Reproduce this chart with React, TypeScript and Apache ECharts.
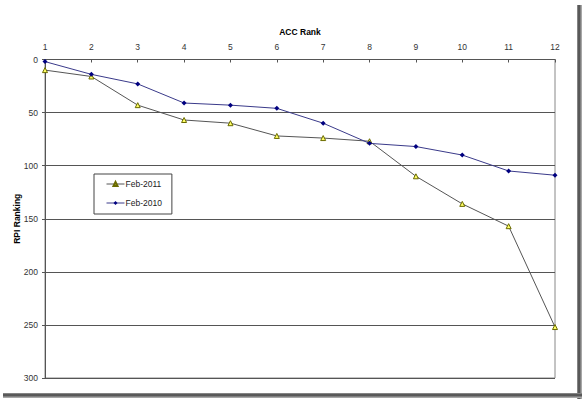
import React, { useEffect, useRef } from "react";
import * as echarts from "echarts";

const ranks = ["1", "2", "3", "4", "5", "6", "7", "8", "9", "10", "11", "12"];
const feb2011 = [10, 16, 43, 57, 60, 72, 74, 77, 110, 136, 157, 252];
const feb2010 = [2, 14, 23, 41, 43, 46, 60, 79, 82, 90, 105, 109];

export default function App() {
  const ref = useRef<HTMLDivElement>(null);
  useEffect(() => {
    if (!ref.current) return;
    const chart = echarts.init(ref.current, null, { renderer: "svg" });
    const font = "'Liberation Sans', Arial, sans-serif";
    chart.setOption({
      animation: false,
      backgroundColor: "#ffffff",
      textStyle: { fontFamily: font },
      grid: {
        left: 45, right: 27, top: 59.5, bottom: 21,
        containLabel: false, outerBoundsMode: "none",
        show: true, borderColor: "#888", borderWidth: 1, backgroundColor: "transparent",
      },
      legend: {
        orient: "vertical",
        left: 94,
        top: 174,
        width: 78,
        padding: [5.5, 10, 6.5, 12],
        itemGap: 10,
        itemWidth: 18,
        itemHeight: 5,
        borderColor: "#444",
        borderWidth: 1,
        lineStyle: { width: 1 },
        textStyle: { fontFamily: font, fontSize: 8.5, color: "#222", padding: [0, 0, 0, -4] },
        data: ["Feb-2011", "Feb-2010"],
      },
      xAxis: {
        type: "category",
        position: "top",
        boundaryGap: false,
        data: ranks,
        name: "ACC Rank",
        nameLocation: "middle",
        nameGap: 23,
        nameMoveOverlap: false,
        nameTextStyle: { fontFamily: font, fontSize: 8.5, fontWeight: "bold", color: "#000" },
        axisLine: { lineStyle: { color: "#555", width: 1 } },
        axisTick: { show: true, inside: true, length: 3, lineStyle: { color: "#555" } },
        axisLabel: { fontFamily: font, fontSize: 8.5, color: "#333", margin: 8 },
        splitLine: { show: false },
      },
      yAxis: {
        type: "value",
        inverse: true,
        min: 0,
        max: 300,
        interval: 50,
        name: "RPI Ranking",
        nameLocation: "middle",
        nameGap: 24,
        nameMoveOverlap: false,
        nameRotate: 90,
        nameTextStyle: { fontFamily: font, fontSize: 8.5, fontWeight: "bold", color: "#000" },
        axisLine: { show: true, lineStyle: { color: "#555", width: 1 } },
        axisTick: { show: true, length: 3, lineStyle: { color: "#555" } },
        axisLabel: { fontFamily: font, fontSize: 8.5, color: "#333", margin: 7 },
        splitLine: { show: true, lineStyle: { color: "#555", width: 1 } },
      },
      series: [
        {
          name: "Feb-2011",
          type: "line",
          data: feb2011,
          symbol: "triangle",
          symbolSize: 5,
          lineStyle: { color: "#555", width: 1 },
          itemStyle: { color: "#ffff66", borderColor: "#6b6b00", borderWidth: 1 },
          z: 3,
        },
        {
          name: "Feb-2010",
          type: "line",
          data: feb2010,
          symbol: "diamond",
          symbolSize: 5,
          lineStyle: { color: "#3a3a8a", width: 1 },
          itemStyle: { color: "#000080", borderColor: "#000080", borderWidth: 0 },
          z: 4,
        },
      ],
      graphic: [
        {
          type: "rect",
          shape: { x: 577, y: 5, width: 5, height: 394 },
          style: {
            fill: new echarts.graphic.LinearGradient(0, 0, 1, 0, [
              { offset: 0, color: "#999" },
              { offset: 0.4, color: "#444" },
              { offset: 1, color: "#bbb" },
            ]),
          },
          silent: true,
        },
        {
          type: "rect",
          shape: { x: 3, y: 393, width: 579, height: 5 },
          style: {
            fill: new echarts.graphic.LinearGradient(0, 0, 0, 1, [
              { offset: 0, color: "#999" },
              { offset: 0.4, color: "#444" },
              { offset: 1, color: "#bbb" },
            ]),
          },
          silent: true,
        },
      ],
    });
    return () => chart.dispose();
  }, []);
  return <div ref={ref} style={{ width: 582, height: 399, position: "absolute", left: 0, top: 0 }} />;
}
